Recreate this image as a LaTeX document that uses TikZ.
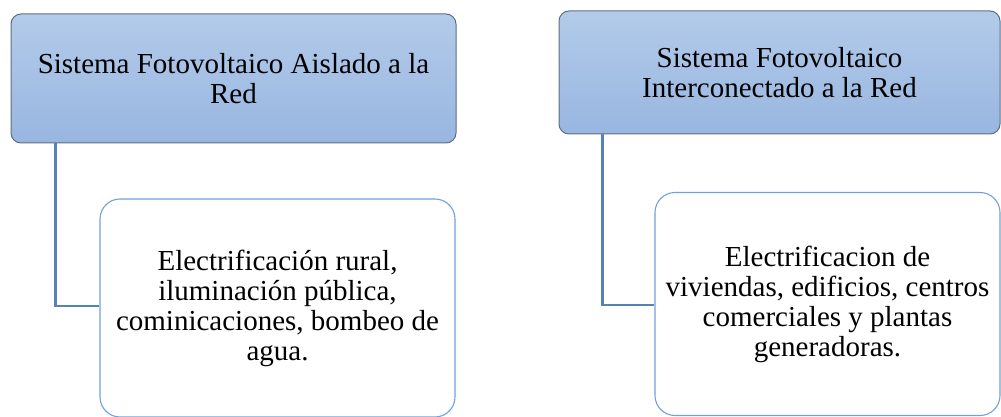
\documentclass[tikz,border=0pt]{standalone}
\usepackage{fontspec}
\setmainfont{Liberation Serif}
\definecolor{hdtop}{HTML}{B3CBEA}
\definecolor{hdbot}{HTML}{98B6E0}
\definecolor{hdline}{HTML}{5E6E80}
\definecolor{conn}{HTML}{5583B8}
\definecolor{chline}{HTML}{70A2DC}
\tikzset{
  header/.style={draw=hdline, line width=1pt, rounded corners=10pt, top color=hdtop, bottom color=hdbot, align=center, font=\fontsize{29}{30}\selectfont, inner sep=0pt},
  child/.style={draw=chline, line width=1.1pt, rounded corners=20pt, fill=white, align=center, font=\fontsize{29}{30}\selectfont, inner sep=0pt},
  connector/.style={draw=conn, line width=2.8pt}
}
\begin{document}
\begin{tikzpicture}[x=1pt,y=-1pt]
\useasboundingbox (0,0) rectangle (1001,417);
% left
\node[header, minimum width=445pt, minimum height=129pt] (h1) at (233.5,78.5) {Sistema Fotovoltaico Aislado a la\\Red};
\node[child, minimum width=355pt, minimum height=218pt] (c1) at (277.5,308) {Electrificación rural,\\iluminación pública,\\cominicaciones, bombeo de\\agua.};
% right
\node[header, minimum width=441pt, minimum height=123pt] (h2) at (779.5,72.5) {Sistema Fotovoltaico\\Interconectado a la Red};
\node[child, minimum width=345pt, minimum height=223pt] (c2) at (827.5,304) {Electrificacion de\\viviendas, edificios, centros\\comerciales y plantas\\generadoras.};
% connectors
\begin{scope}[on background layer/.style={}]
\draw[connector] ([xshift=45pt]h1.south west) |- ([yshift=2pt]c1.west);
\draw[connector] ([xshift=44pt]h2.south west) |- ([yshift=-1pt]c2.west);
\end{scope}
\end{tikzpicture}
\end{document}
